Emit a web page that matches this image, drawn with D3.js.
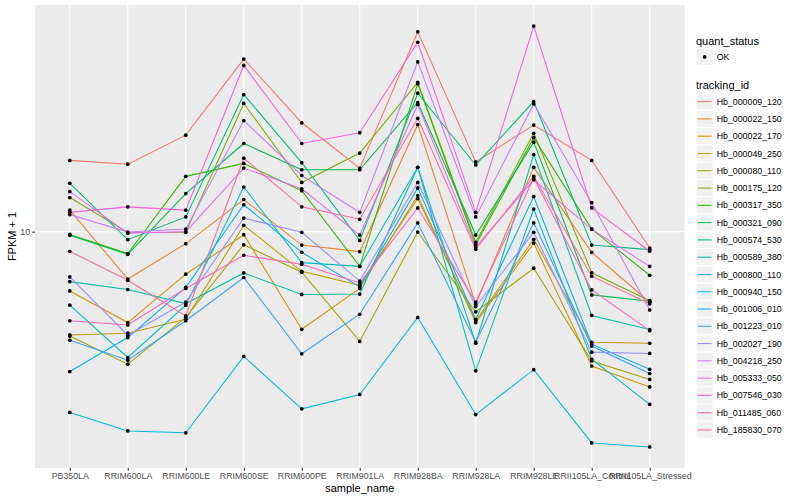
<!DOCTYPE html>
<html>
<head>
<meta charset="utf-8">
<script src="https://cdn.jsdelivr.net/npm/d3@7"></script>
<style>
  html, body { margin: 0; padding: 0; background: #ffffff; }
  svg { display: block; font-family: "Liberation Sans", Arial, Helvetica, sans-serif; }
</style>
</head>
<body>
<svg id="chart" width="800" height="500"></svg>
<script>
// ---------- data ----------
const samples = ["PB350LA","RRIM600LA","RRIM600LE","RRIM600SE","RRIM600PE","RRIM901LA",
  "RRIM928BA","RRIM928LA","RRIM928LE","RRII105LA_Control","RRII105LA_Stressed"];

const trackingIds = ["Hb_000009_120","Hb_000022_150","Hb_000022_170","Hb_000049_250","Hb_000080_110",
  "Hb_000175_120","Hb_000317_350","Hb_000321_090","Hb_000574_530","Hb_000589_380","Hb_000800_110",
  "Hb_000940_150","Hb_001006_010","Hb_001223_010","Hb_002027_190","Hb_004218_250","Hb_005333_050",
  "Hb_007546_030","Hb_011485_060","Hb_185830_070"];

// FPKM + 1, one row per tracking id, one value per sample
const hb000009_120 = [17.3, 16.8, 21.0, 37.7, 23.1, 16.3, 46.5, 17.1, 22.7, 17.3, 8.82];
const hb000022_150 = [11.8, 6.95, 9.12, 12.8, 9.02, 8.58, 22.8, 5.72, 16.4, 8.53, 5.81];
const hb000022_170 = [6.34, 4.97, 7.21, 9.77, 4.72, 6.46, 13.2, 4.97, 9.16, 3.56, 3.03];
const hb000049_250 = [4.52, 4.58, 5.10, 10.5, 7.37, 6.62, 12.9, 5.04, 9.43, 4.27, 4.24];
const hb000080_110 = [4.48, 3.61, 5.17, 9.04, 7.32, 4.30, 9.97, 5.40, 7.55, 3.70, 3.21];
const hb000175_120 = [13.0, 9.93, 9.95, 26.8, 14.6, 18.3, 31.5, 9.21, 21.3, 7.29, 5.88];
const hb000317_350 = [9.79, 8.45, 15.3, 16.9, 13.7, 7.66, 31.2, 9.05, 20.6, 10.2, 7.15];
const hb000321_090 = [9.72, 8.40, 13.4, 19.7, 16.1, 16.1, 27.0, 9.74, 19.9, 6.15, 5.86];
const hb000574_530 = [14.5, 9.40, 11.2, 28.7, 17.0, 9.35, 29.0, 16.7, 27.2, 9.02, 8.71];
const hb000589_380 = [6.81, 6.41, 5.75, 7.28, 6.17, 6.19, 16.4, 4.24, 18.1, 5.25, 4.71];
const hb000800_110 = [5.68, 3.80, 5.68, 14.1, 7.88, 7.66, 16.4, 3.43, 11.9, 3.75, 2.65];
const hb000940_150 = [2.49, 2.16, 2.13, 3.83, 2.56, 2.86, 5.17, 2.45, 3.46, 1.97, 1.91];
const hb001006_010 = [3.41, 4.43, 6.52, 12.3, 8.53, 6.54, 14.0, 5.10, 13.1, 4.21, 3.47];
const hb001223_010 = [4.34, 3.72, 5.04, 7.03, 3.91, 5.30, 10.7, 4.28, 10.7, 4.15, 3.36];
const hb002027_190 = [7.06, 4.51, 5.82, 11.1, 9.95, 6.84, 14.6, 5.62, 9.95, 3.96, 3.92];
const hb004218_250 = [11.4, 9.97, 10.2, 23.5, 15.4, 11.6, 36.9, 11.2, 26.7, 12.5, 5.48];
const hb005333_050 = [13.6, 9.89, 10.0, 16.3, 13.9, 9.74, 26.6, 8.89, 14.9, 10.2, 7.66];
const hb007546_030 = [11.6, 12.1, 11.8, 35.9, 19.7, 21.4, 42.9, 11.6, 48.6, 12.0, 8.60];
const hb011485_060 = [5.04, 4.88, 6.46, 8.34, 7.78, 6.74, 12.0, 5.82, 15.1, 6.39, 4.67];
const hb185830_070 = [8.60, 6.88, 5.23, 17.6, 12.1, 11.0, 23.9, 8.73, 15.3, 7.10, 5.74];

const seriesValues = [hb000009_120, hb000022_150, hb000022_170, hb000049_250, hb000080_110,
  hb000175_120, hb000317_350, hb000321_090, hb000574_530, hb000589_380, hb000800_110,
  hb000940_150, hb001006_010, hb001223_010, hb002027_190, hb004218_250, hb005333_050,
  hb007546_030, hb011485_060, hb185830_070];

const quantStatus = ["OK"];
const yTicks = [10];

// ---------- ggplot-like hue palette (polar LUV) ----------
function hclToHex(h, c, l) {
  const hr = h * Math.PI / 180;
  const U = c * Math.cos(hr), V = c * Math.sin(hr);
  const Xn = 95.047, Yn = 100, Zn = 108.883;
  const Y = l > 8 ? Yn * Math.pow((l + 16) / 116, 3) : Yn * l / 903.3;
  const den = Xn + 15 * Yn + 3 * Zn;
  const un = 4 * Xn / den, vn = 9 * Yn / den;
  const up = U / (13 * l) + un, vp = V / (13 * l) + vn;
  const X = 9 * Y * up / (4 * vp);
  const Z = -X / 3 - 5 * Y + 3 * Y / vp;
  const x = X / 100, y = Y / 100, z = Z / 100;
  const lin = [
    3.240479 * x - 1.537150 * y - 0.498535 * z,
    -0.969256 * x + 1.875992 * y + 0.041556 * z,
    0.055648 * x - 0.204043 * y + 1.057311 * z
  ];
  const g = lin.map(v => {
    v = v <= 0.0031308 ? 12.92 * v : 1.055 * Math.pow(v, 1 / 2.4) - 0.055;
    return Math.round(Math.max(0, Math.min(1, v)) * 255);
  });
  return d3.rgb(g[0], g[1], g[2]).formatHex();
}
const nS = trackingIds.length;
const colors = d3.range(nS).map(i => hclToHex(15 + i * 360 / nS, 100, 65));
const color = d3.scaleOrdinal().domain(trackingIds).range(colors);

// ---------- layout ----------
const svg = d3.select("#chart");
const panel = { left: 35, right: 684.5, top: 5, bottom: 468 };

const x = d3.scalePoint().domain(samples).range([panel.left, panel.right]).padding(0.6);

const allVals = seriesValues.flat();
const lmin = Math.log10(d3.min(allVals)), lmax = Math.log10(d3.max(allVals));
const pad = (lmax - lmin) * 0.05;
const y = d3.scaleLog().domain([Math.pow(10, lmin - pad), Math.pow(10, lmax + pad)])
  .range([panel.bottom, panel.top]);

// panel background
svg.append("rect").attr("x", panel.left).attr("y", panel.top)
  .attr("width", panel.right - panel.left).attr("height", panel.bottom - panel.top)
  .attr("fill", "#EBEBEB");

// gridlines
const grid = svg.append("g");
grid.selectAll("line.gx").data(samples).enter().append("line")
  .attr("x1", d => x(d)).attr("x2", d => x(d))
  .attr("y1", panel.top).attr("y2", panel.bottom)
  .attr("stroke", "#ffffff").attr("stroke-width", 1.07);
grid.selectAll("line.gy").data(yTicks).enter().append("line")
  .attr("x1", panel.left).attr("x2", panel.right)
  .attr("y1", d => y(d)).attr("y2", d => y(d))
  .attr("stroke", "#ffffff").attr("stroke-width", 1.07);

// lines
const lineGen = d3.line().x((d, i) => x(samples[i])).y(d => y(d));
svg.append("g").selectAll("path").data(seriesValues).enter().append("path")
  .attr("d", d => lineGen(d))
  .attr("fill", "none")
  .attr("stroke", (d, i) => color(trackingIds[i]))
  .attr("stroke-width", 1.07);

// points
const pts = [];
seriesValues.forEach((row, si) => row.forEach((v, j) => pts.push({ s: samples[j], v })));
svg.append("g").selectAll("circle").data(pts).enter().append("circle")
  .attr("cx", d => x(d.s)).attr("cy", d => y(d.v)).attr("r", 1.85)
  .attr("fill", "#000000");

// axes
const xAxis = d3.axisBottom(x).tickSize(2.75).tickPadding(2.2);
const gx = svg.append("g").attr("transform", `translate(0,${panel.bottom})`).call(xAxis);
gx.select(".domain").remove();
gx.selectAll(".tick line").attr("stroke", "#333333").attr("stroke-width", 1.07);
gx.selectAll(".tick text").attr("fill", "#4D4D4D").attr("font-size", 8.8)
  .attr("font-family", "Liberation Sans, Arial, sans-serif");

const yAxis = d3.axisLeft(y).tickValues(yTicks).tickFormat(d3.format("d")).tickSize(2.75).tickPadding(2.2);
const gy = svg.append("g").attr("transform", `translate(${panel.left},0)`).call(yAxis);
gy.select(".domain").remove();
gy.selectAll(".tick line").attr("stroke", "#333333").attr("stroke-width", 1.07);
gy.selectAll(".tick text").attr("fill", "#4D4D4D").attr("font-size", 8.8)
  .attr("font-family", "Liberation Sans, Arial, sans-serif");

// axis titles
svg.append("text").attr("x", (panel.left + panel.right) / 2).attr("y", 492)
  .attr("text-anchor", "middle").attr("font-size", 11).attr("fill", "#000")
  .text("sample_name");
svg.append("text").attr("transform", `translate(16,${(panel.top + panel.bottom) / 2}) rotate(-90)`)
  .attr("text-anchor", "middle").attr("font-size", 11).attr("fill", "#000")
  .text("FPKM + 1");

// ---------- legends ----------
const lg = svg.append("g");
const keyX = 696, keyW = 17.28, keyH = 17.28, textX = 716.7;

lg.append("text").attr("x", keyX).attr("y", 44.5).attr("font-size", 11).text("quant_status");
lg.selectAll("rect.q").data(quantStatus).enter().append("rect")
  .attr("x", keyX).attr("y", (d, i) => 48.3 + i * keyH).attr("width", keyW).attr("height", keyH)
  .attr("fill", "#F2F2F2").attr("stroke", "#ffffff").attr("stroke-width", 1.07);
lg.selectAll("circle.q").data(quantStatus).enter().append("circle")
  .attr("cx", keyX + keyW / 2).attr("cy", (d, i) => 48.3 + keyH / 2 + i * keyH).attr("r", 1.85)
  .attr("fill", "#000");
lg.selectAll("text.q").data(quantStatus).enter().append("text")
  .attr("x", textX).attr("y", (d, i) => 48.3 + keyH / 2 + 3.1 + i * keyH)
  .attr("font-size", 8.8).text(d => d);

lg.append("text").attr("x", keyX).attr("y", 89).attr("font-size", 11).text("tracking_id");
const top2 = 93;
const items = lg.selectAll("g.t").data(trackingIds).enter().append("g")
  .attr("transform", (d, i) => `translate(${keyX},${top2 + i * keyH})`);
items.append("rect").attr("width", keyW).attr("height", keyH)
  .attr("fill", "#F2F2F2").attr("stroke", "#ffffff").attr("stroke-width", 1.07);
items.append("line").attr("x1", 1.7).attr("x2", keyW - 1.7)
  .attr("y1", keyH / 2).attr("y2", keyH / 2)
  .attr("stroke", d => color(d)).attr("stroke-width", 1.07);
items.append("text").attr("x", textX - keyX).attr("y", keyH / 2 + 3.1)
  .attr("font-size", 8.8).text(d => d);
</script>
</body>
</html>
